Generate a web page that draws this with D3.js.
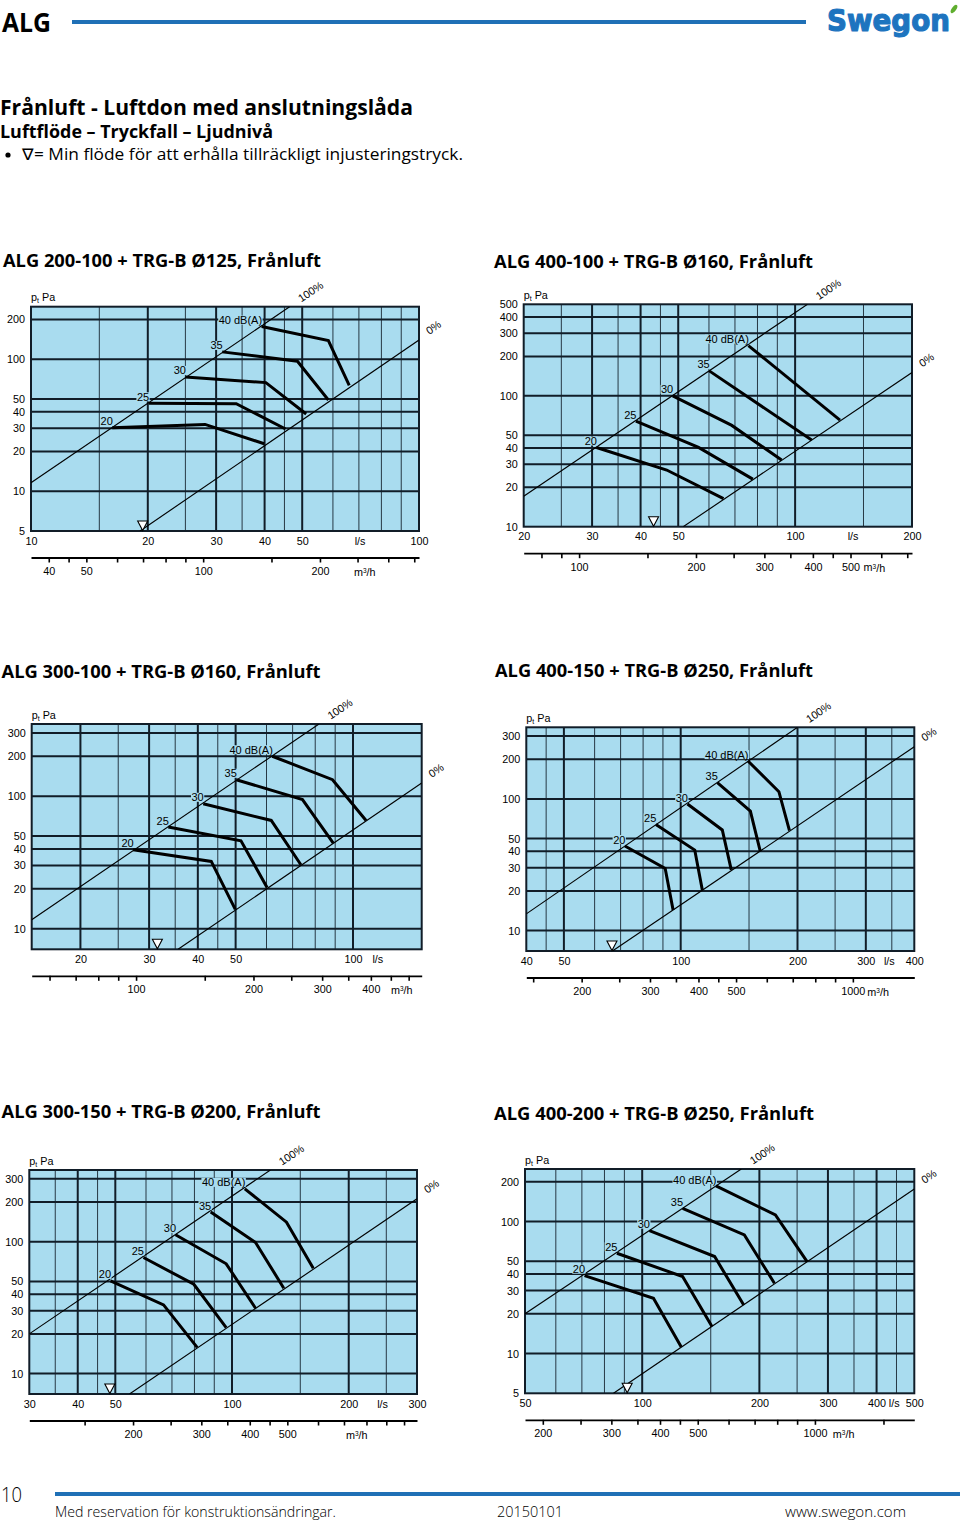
<!DOCTYPE html>
<html><head><meta charset="utf-8">
<script src="https://cdn.jsdelivr.net/npm/d3@7"></script>
<style>
body{margin:0;background:#fff;}
svg{display:block;}
</style></head>
<body>
<svg id="page" width="960" height="1523"></svg>
<script>
// ================= DATA =================
const chartTitles = [
  "ALG 200-100 + TRG-B Ø125, Frånluft",
  "ALG 400-100 + TRG-B Ø160, Frånluft",
  "ALG 300-100 + TRG-B Ø160, Frånluft",
  "ALG 400-150 + TRG-B Ø250, Frånluft",
  "ALG 300-150 + TRG-B Ø200, Frånluft",
  "ALG 400-200 + TRG-B Ø250, Frånluft"
];
const dBLabels = ["20", "25", "30", "35", "40 dB(A)"];

// chart 1
const c1_flowDomain = [10, 100];
const c1_pressDomain = [5, 250];
const c1_pressTicks = [200, 100, 50, 40, 30, 20, 10, 5];
const c1_flowTicks = [10, 20, 30, 40, 50, 100];
const c1_flowGrid = [15, 20, 25, 30, 35, 40, 45, 50, 60, 70, 80, 90];
const c1_m3hTicks = [40, 45, 50, 60, 70, 80, 90, 100, 150, 200, 250, 300, 350];
const c1_m3hLabels = [40, 50, 100, 200];
const c1_line100 = [[10, 11.6], [46.4, 250]];
const c1_line0 = [[19.1, 5], [100, 140]];
const c1_minFlow = 19.4;
const c1_curves = [
  [[16.2, 30.3], [28.1, 32.1], [39.9, 22.9]],
  [[20.1, 46.4], [33.8, 46.1], [45.3, 29.6]],
  [[25.0, 73.5], [40.3, 66.5], [51.2, 38.5]],
  [[31.1, 113.7], [48.6, 96.6], [58.4, 49.1]],
  [[39.3, 177], [58.4, 138.6], [66.1, 63.5]]
];
const c1_unitAt = [70.5, 261]; // l/s label flow, m3/h label flow

// chart 2
const c2_flowDomain = [20, 200];
const c2_pressDomain = [10, 500];
const c2_pressTicks = [500, 400, 300, 200, 100, 50, 40, 30, 20, 10];
const c2_flowTicks = [20, 30, 40, 50, 100, 200];
const c2_flowGrid = [25, 30, 35, 40, 45, 50, 60, 70, 80, 90, 100, 150];
const c2_m3hTicks = [80, 90, 100, 150, 200, 250, 300, 350, 400, 450, 500, 600, 700];
const c2_m3hLabels = [100, 200, 300, 400, 500];
const c2_line100 = [[20, 17.1], [107.6, 500]];
const c2_line0 = [[51.5, 10], [200, 150.7]];
const c2_minFlow = 43.2;
const c2_curves = [
  [[30.8, 40.3], [46.7, 27.1], [65.4, 16.4]],
  [[38.9, 64.1], [56.4, 40.3], [77.8, 23.1]],
  [[48.4, 100], [68.7, 59.4], [92.3, 32.3]],
  [[60.1, 155], [110.3, 45.9]],
  [[75.8, 242], [130.5, 65.2]]
];
const c2_unitAt = [141, 576];

// chart 3
const c3_flowDomain = [15, 150];
const c3_pressDomain = [7, 350];
const c3_pressTicks = [300, 200, 100, 50, 40, 30, 20, 10];
const c3_flowTicks = [20, 30, 40, 50, 100];
const c3_flowGrid = [20, 25, 30, 35, 40, 45, 50, 60, 70, 80, 90, 100];
const c3_m3hTicks = [60, 70, 80, 90, 100, 150, 200, 250, 300, 350, 400, 450, 500];
const c3_m3hLabels = [100, 200, 300, 400];
const c3_line100 = [[15, 11.7], [81.8, 350]];
const c3_line0 = [[35.6, 7], [150, 125.8]];
const c3_minFlow = 31.5;
const c3_curves = [
  [[27.3, 39.4], [43.3, 32.2], [49.9, 14.0]],
  [[33.6, 58.5], [51.6, 46.1], [60.2, 20.5]],
  [[41.3, 87.7], [61.7, 65.6], [73.5, 30.4]],
  [[50.2, 133], [74.2, 94.1], [89.0, 44.2]],
  [[62.1, 200], [88.6, 133], [108.0, 65.6]]
];
const c3_unitAt = [115.8, 480];

// chart 4
const c4_flowDomain = [40, 400];
const c4_pressDomain = [7, 350];
const c4_pressTicks = [300, 200, 100, 50, 40, 30, 20, 10];
const c4_flowTicks = [40, 50, 100, 200, 300, 400];
const c4_flowGrid = [45, 50, 60, 70, 80, 90, 100, 150, 200, 250, 300, 350];
const c4_m3hTicks = [150, 200, 250, 300, 350, 400, 450, 500, 600, 700, 800, 900, 1000];
const c4_m3hLabels = [200, 300, 400, 500, 1000];
const c4_line100 = [[40, 13.4], [200, 350]];
const c4_line0 = [[66.7, 7], [400, 249]];
const c4_minFlow = 66.5;
const c4_curves = [
  [[71.8, 43.9], [91.2, 29.7], [95.6, 14.3]],
  [[86.3, 64.0], [108.7, 40.9], [113.7, 20.3]],
  [[104.1, 91.5], [128.0, 58.1], [135.0, 28.9]],
  [[124.3, 132.9], [151.2, 80.9], [160.3, 40.2]],
  [[149.1, 194], [179.1, 113.5], [190.7, 57.4]]
];
const c4_unitAt = [345, 1162];

// chart 5
const c5_flowDomain = [30, 300];
const c5_pressDomain = [7, 350];
const c5_pressTicks = [300, 200, 100, 50, 40, 30, 20, 10];
const c5_flowTicks = [30, 40, 50, 100, 200, 300];
const c5_flowGrid = [35, 40, 45, 50, 60, 70, 80, 90, 100, 150, 200, 250];
const c5_m3hTicks = [150, 200, 250, 300, 350, 400, 450, 500, 600, 700, 800, 900, 1000];
const c5_m3hLabels = [200, 300, 400, 500];
const c5_line100 = [[30, 20], [125.6, 350]];
const c5_line0 = [[54.4, 7], [300, 211.6]];
const c5_minFlow = 48.4;
const c5_curves = [
  [[48.6, 50.5], [66.6, 33.2], [81.3, 15.8]],
  [[59.1, 75.9], [79.7, 47.6], [96.6, 22.3]],
  [[71.5, 112.9], [96.6, 68.0], [115.0, 31.3]],
  [[88.1, 167.8], [115.0, 98.7], [136.0, 44.4]],
  [[107.9, 252], [138.2, 140.8], [162.0, 63.0]]
];
const c5_unitAt = [244.6, 755];

// chart 6
const c6_flowDomain = [50, 500];
const c6_pressDomain = [5, 250];
const c6_pressTicks = [200, 100, 50, 40, 30, 20, 10, 5];
const c6_flowTicks = [50, 100, 200, 300, 400, 500];
const c6_flowGrid = [60, 70, 80, 90, 100, 150, 200, 250, 300, 350, 400, 450];
const c6_m3hTicks = [200, 250, 300, 350, 400, 450, 500, 600, 700, 800, 900, 1000, 1500];
const c6_m3hLabels = [200, 300, 400, 500, 1000];
const c6_line100 = [[50, 20], [179.7, 250]];
const c6_line0 = [[84.4, 5], [500, 176.6]];
const c6_minFlow = 91.5;
const c6_curves = [
  [[71.1, 38.9], [106.9, 26.2], [126.0, 11.2]],
  [[86.1, 57.5], [127.0, 38.3], [151.1, 16.0]],
  [[104.4, 85.4], [153.5, 54.3], [182.3, 23.3]],
  [[127.0, 126.0], [183.0, 79.2], [218.6, 34.1]],
  [[154.7, 186], [219.9, 112.2], [265.2, 49.7]]
];
const c6_unitAt = [444, 1185];

// ================= LAYOUT (positions, not data) =================
const frames = [
  {x0: 31, x1: 419, y0: 306.7, y1: 531, tx: 3, ty: 266.5, tw: 318},
  {x0: 523.7, x1: 912, y0: 304.3, y1: 526.7, tx: 494, ty: 267.5, tw: 319},
  {x0: 31.7, x1: 421.7, y0: 724, y1: 949.3, tx: 1.5, ty: 678, tw: 319},
  {x0: 526.3, x1: 914.3, y0: 727.3, y1: 951, tx: 495, ty: 676.5, tw: 318},
  {x0: 29.3, x1: 417, y0: 1170, y1: 1394, tx: 1.5, ty: 1118, tw: 319},
  {x0: 525, x1: 914.3, y0: 1169, y1: 1393.3, tx: 494, ty: 1119.5, tw: 320}
];

const specs = [
  {flowDomain: c1_flowDomain, pressDomain: c1_pressDomain, pressTicks: c1_pressTicks, flowTicks: c1_flowTicks, flowGrid: c1_flowGrid, m3hTicks: c1_m3hTicks, m3hLabels: c1_m3hLabels, line100: c1_line100, line0: c1_line0, minFlow: c1_minFlow, curves: c1_curves, unitAt: c1_unitAt},
  {flowDomain: c2_flowDomain, pressDomain: c2_pressDomain, pressTicks: c2_pressTicks, flowTicks: c2_flowTicks, flowGrid: c2_flowGrid, m3hTicks: c2_m3hTicks, m3hLabels: c2_m3hLabels, line100: c2_line100, line0: c2_line0, minFlow: c2_minFlow, curves: c2_curves, unitAt: c2_unitAt},
  {flowDomain: c3_flowDomain, pressDomain: c3_pressDomain, pressTicks: c3_pressTicks, flowTicks: c3_flowTicks, flowGrid: c3_flowGrid, m3hTicks: c3_m3hTicks, m3hLabels: c3_m3hLabels, line100: c3_line100, line0: c3_line0, minFlow: c3_minFlow, curves: c3_curves, unitAt: c3_unitAt},
  {flowDomain: c4_flowDomain, pressDomain: c4_pressDomain, pressTicks: c4_pressTicks, flowTicks: c4_flowTicks, flowGrid: c4_flowGrid, m3hTicks: c4_m3hTicks, m3hLabels: c4_m3hLabels, line100: c4_line100, line0: c4_line0, minFlow: c4_minFlow, curves: c4_curves, unitAt: c4_unitAt},
  {flowDomain: c5_flowDomain, pressDomain: c5_pressDomain, pressTicks: c5_pressTicks, flowTicks: c5_flowTicks, flowGrid: c5_flowGrid, m3hTicks: c5_m3hTicks, m3hLabels: c5_m3hLabels, line100: c5_line100, line0: c5_line0, minFlow: c5_minFlow, curves: c5_curves, unitAt: c5_unitAt},
  {flowDomain: c6_flowDomain, pressDomain: c6_pressDomain, pressTicks: c6_pressTicks, flowTicks: c6_flowTicks, flowGrid: c6_flowGrid, m3hTicks: c6_m3hTicks, m3hLabels: c6_m3hLabels, line100: c6_line100, line0: c6_line0, minFlow: c6_minFlow, curves: c6_curves, unitAt: c6_unitAt}
];

// ================= STYLE =================
const BG = "#a9dcef";
const GRID = "#111d28";
const BLUE = "#1f70b6";
const AX_FONT = "'Liberation Sans', Arial, sans-serif";
const HEAD_FONT = "'Open Sans', 'Noto Sans', sans-serif";
const LBL = 10.8;

const svg = d3.select("#page");

// ================= HEADER =================
svg.append("text").attr("x", 2).attr("y", 32).text("ALG")
  .attr("font-family", HEAD_FONT).attr("font-weight", 700).attr("font-size", 26)
  .attr("textLength", 49).attr("lengthAdjust", "spacingAndGlyphs");
svg.append("line").attr("x1", 72).attr("x2", 806).attr("y1", 22).attr("y2", 22)
  .attr("stroke", BLUE).attr("stroke-width", 4);
svg.append("text").attr("x", 827).attr("y", 31).text("Swegon")
  .attr("font-family", "'DejaVu Sans', sans-serif").attr("font-weight", 700)
  .attr("font-size", 30).attr("fill", "#1d74bf").attr("stroke", "#1d74bf").attr("stroke-width", 1.2)
  .attr("stroke-linejoin", "round")
  .attr("textLength", 123).attr("lengthAdjust", "spacingAndGlyphs");
svg.append("ellipse").attr("cx", 954).attr("cy", 9).attr("rx", 2.2).attr("ry", 4.8)
  .attr("transform", "rotate(35 954 9)").attr("fill", "#5fae2e");

svg.append("text").attr("x", 0).attr("y", 115).text("Frånluft - Luftdon med anslutningslåda")
  .attr("font-family", HEAD_FONT).attr("font-weight", 700).attr("font-size", 22)
  .attr("textLength", 413).attr("lengthAdjust", "spacingAndGlyphs");
svg.append("text").attr("x", 0).attr("y", 138).text("Luftflöde – Tryckfall – Ljudnivå")
  .attr("font-family", HEAD_FONT).attr("font-weight", 700).attr("font-size", 18)
  .attr("textLength", 273).attr("lengthAdjust", "spacingAndGlyphs");
svg.append("circle").attr("cx", 8).attr("cy", 155).attr("r", 2.6).attr("fill", "#000");
svg.append("text").attr("x", 22).attr("y", 160).text("∇= Min flöde för att erhålla tillräckligt injusteringstryck.")
  .attr("font-family", HEAD_FONT).attr("font-weight", 400).attr("font-size", 16)
  .attr("textLength", 441).attr("lengthAdjust", "spacingAndGlyphs");

// ================= FOOTER =================
svg.append("text").attr("x", 1).attr("y", 1502).text("10")
  .attr("font-family", HEAD_FONT).attr("font-weight", 300).attr("font-size", 21)
  .attr("textLength", 21).attr("lengthAdjust", "spacingAndGlyphs");
svg.append("line").attr("x1", 55).attr("x2", 960).attr("y1", 1494).attr("y2", 1494)
  .attr("stroke", BLUE).attr("stroke-width", 4);
const foot = [["Med reservation för konstruktionsändringar.", 55, 281], ["20150101", 497, 66], ["www.swegon.com", 785, 121]];
foot.forEach(f => svg.append("text").attr("x", f[1]).attr("y", 1517).text(f[0])
  .attr("font-family", HEAD_FONT).attr("font-weight", 300).attr("font-size", 14)
  .attr("textLength", f[2]).attr("lengthAdjust", "spacingAndGlyphs"));

// ================= CHARTS =================
function drawChart(idx) {
  const fr = frames[idx], sp = specs[idx];
  const g = svg.append("g");
  const x = d3.scaleLog().domain(sp.flowDomain).range([fr.x0, fr.x1]);
  const y = d3.scaleLog().domain(sp.pressDomain).range([fr.y1, fr.y0]);
  const x2 = d3.scaleLog().domain([sp.flowDomain[0] * 3.6, sp.flowDomain[1] * 3.6]).range([fr.x0, fr.x1]);

  // title
  g.append("text").attr("x", fr.tx).attr("y", fr.ty).text(chartTitles[idx])
    .attr("font-family", HEAD_FONT).attr("font-weight", 700).attr("font-size", 18)
    .attr("textLength", fr.tw).attr("lengthAdjust", "spacingAndGlyphs");

  // background
  g.append("rect").attr("x", fr.x0).attr("y", fr.y0).attr("width", fr.x1 - fr.x0).attr("height", fr.y1 - fr.y0)
    .attr("fill", BG);

  // vertical grid
  g.append("g").selectAll("line").data(sp.flowGrid).join("line")
    .attr("x1", d => x(d)).attr("x2", d => x(d)).attr("y1", fr.y0).attr("y2", fr.y1)
    .attr("stroke", GRID).attr("stroke-width", d => sp.flowTicks.includes(d) ? 2 : 1)
    .attr("opacity", d => sp.flowTicks.includes(d) ? 1 : 0.85);

  // horizontal grid
  const pd = sp.pressDomain;
  g.append("g").selectAll("line").data(sp.pressTicks.filter(v => v > pd[0] && v < pd[1])).join("line")
    .attr("x1", fr.x0).attr("x2", fr.x1).attr("y1", d => y(d)).attr("y2", d => y(d))
    .attr("stroke", GRID).attr("stroke-width", 2);

  // border
  g.append("rect").attr("x", fr.x0).attr("y", fr.y0).attr("width", fr.x1 - fr.x0).attr("height", fr.y1 - fr.y0)
    .attr("fill", "none").attr("stroke", GRID).attr("stroke-width", 2);

  // clip
  const cid = "clip" + idx;
  svg.append("clipPath").attr("id", cid).append("rect")
    .attr("x", fr.x0).attr("y", fr.y0).attr("width", fr.x1 - fr.x0).attr("height", fr.y1 - fr.y0);
  const inner = g.append("g").attr("clip-path", `url(#${cid})`);

  const lineGen = d3.line().x(d => x(d[0])).y(d => y(d[1]));

  // 100% and 0% lines
  [sp.line100, sp.line0].forEach(l => inner.append("path").attr("d", lineGen(l))
    .attr("fill", "none").attr("stroke", "#000").attr("stroke-width", 1.15));

  // sound level curves
  inner.selectAll("path.curve").data(sp.curves).join("path").attr("class", "curve")
    .attr("d", lineGen).attr("fill", "none").attr("stroke", "#000")
    .attr("stroke-width", 3).attr("stroke-linejoin", "miter");

  // dB labels with background box
  sp.curves.forEach((c, i) => {
    const lx = x(c[0][0]) + 0.5, ly = y(c[0][1]) - 6.3;
    const t = g.append("text").attr("x", lx).attr("y", ly).attr("dy", "0.35em")
      .attr("text-anchor", "end").attr("font-family", AX_FONT).attr("font-size", 11)
      .text(dBLabels[i]);
    const bb = t.node().getBBox();
    g.insert("rect", () => t.node()).attr("x", bb.x - 0.5).attr("y", bb.y + 1.5)
      .attr("width", bb.width + 1).attr("height", bb.height - 3).attr("fill", BG);
  });

  // min flow triangle
  const tx = x(sp.minFlow);
  g.append("path").attr("d", `M${tx - 5},${fr.y1 - 10}L${tx + 5},${fr.y1 - 10}L${tx},${fr.y1 - 0.5}Z`)
    .attr("fill", "#fff").attr("stroke", "#000").attr("stroke-width", 1.1);

  // 100% / 0% labels
  const e100 = sp.line100[1], e0 = sp.line0[1];
  [[e100, "100%", 21, -15], [e0, "0%", 14.5, -12.5]].forEach(([e, s, dx, dy]) => {
    const px = x(e[0]) + dx, py = y(e[1]) + dy;
    g.append("text").attr("x", px).attr("y", py).attr("dy", "0.35em").attr("text-anchor", "middle")
      .attr("transform", `rotate(-34 ${px} ${py})`)
      .attr("font-family", AX_FONT).attr("font-size", LBL).text(s);
  });

  // y axis labels
  const ya = g.append("g").attr("transform", `translate(${fr.x0},0)`)
    .call(d3.axisLeft(y).tickValues(sp.pressTicks).tickSize(0).tickPadding(6).tickFormat(d3.format("d")));
  ya.select(".domain").remove();
  ya.selectAll("line").remove();
  ya.selectAll("text").attr("font-family", AX_FONT).attr("font-size", LBL).attr("fill", "#000");

  // p_t Pa
  const pl = g.append("text").attr("x", fr.x0).attr("y", fr.y0 - 9).attr("dy", "0.35em")
    .attr("font-family", AX_FONT).attr("font-size", LBL);
  pl.append("tspan").text("p");
  pl.append("tspan").attr("font-size", 7).attr("dy", "0.25em").text("t");
  pl.append("tspan").attr("dy", "-0.18em").text(" Pa");

  // l/s axis labels
  const xa = g.append("g").attr("transform", `translate(0,${fr.y1})`)
    .call(d3.axisBottom(x).tickValues(sp.flowTicks).tickSize(0).tickPadding(6).tickFormat(d3.format("d")));
  xa.select(".domain").remove();
  xa.selectAll("line").remove();
  xa.selectAll("text").attr("font-family", AX_FONT).attr("font-size", LBL).attr("fill", "#000");
  g.append("text").attr("x", x(sp.unitAt[0])).attr("y", fr.y1 + 10).attr("dy", "0.35em")
    .attr("text-anchor", "middle").attr("font-family", AX_FONT).attr("font-size", LBL).text("l/s");

  // m3/h axis
  const ma = g.append("g").attr("transform", `translate(0,${fr.y1 + 26.5})`)
    .call(d3.axisBottom(x2).tickValues(sp.m3hTicks).tickSize(5).tickSizeOuter(0).tickPadding(5)
      .tickFormat(d => sp.m3hLabels.includes(d) ? String(d) : ""));
  ma.select(".domain").attr("stroke", "#000").attr("stroke-width", 1.8);
  ma.selectAll(".tick line").attr("stroke", "#000").attr("stroke-width", 1.6);
  ma.selectAll("text").attr("font-family", AX_FONT).attr("font-size", LBL).attr("fill", "#000");
  const mt = g.append("text").attr("x", x2(sp.unitAt[1])).attr("y", fr.y1 + 41).attr("dy", "0.35em")
    .attr("text-anchor", "middle").attr("font-family", AX_FONT).attr("font-size", LBL);
  mt.append("tspan").text("m");
  mt.append("tspan").attr("font-size", 6.5).attr("dy", "-0.45em").text("3");
  mt.append("tspan").attr("dy", "0.3em").text("/h");
}

for (let i = 0; i < 6; i++) drawChart(i);
</script>
</body></html>
